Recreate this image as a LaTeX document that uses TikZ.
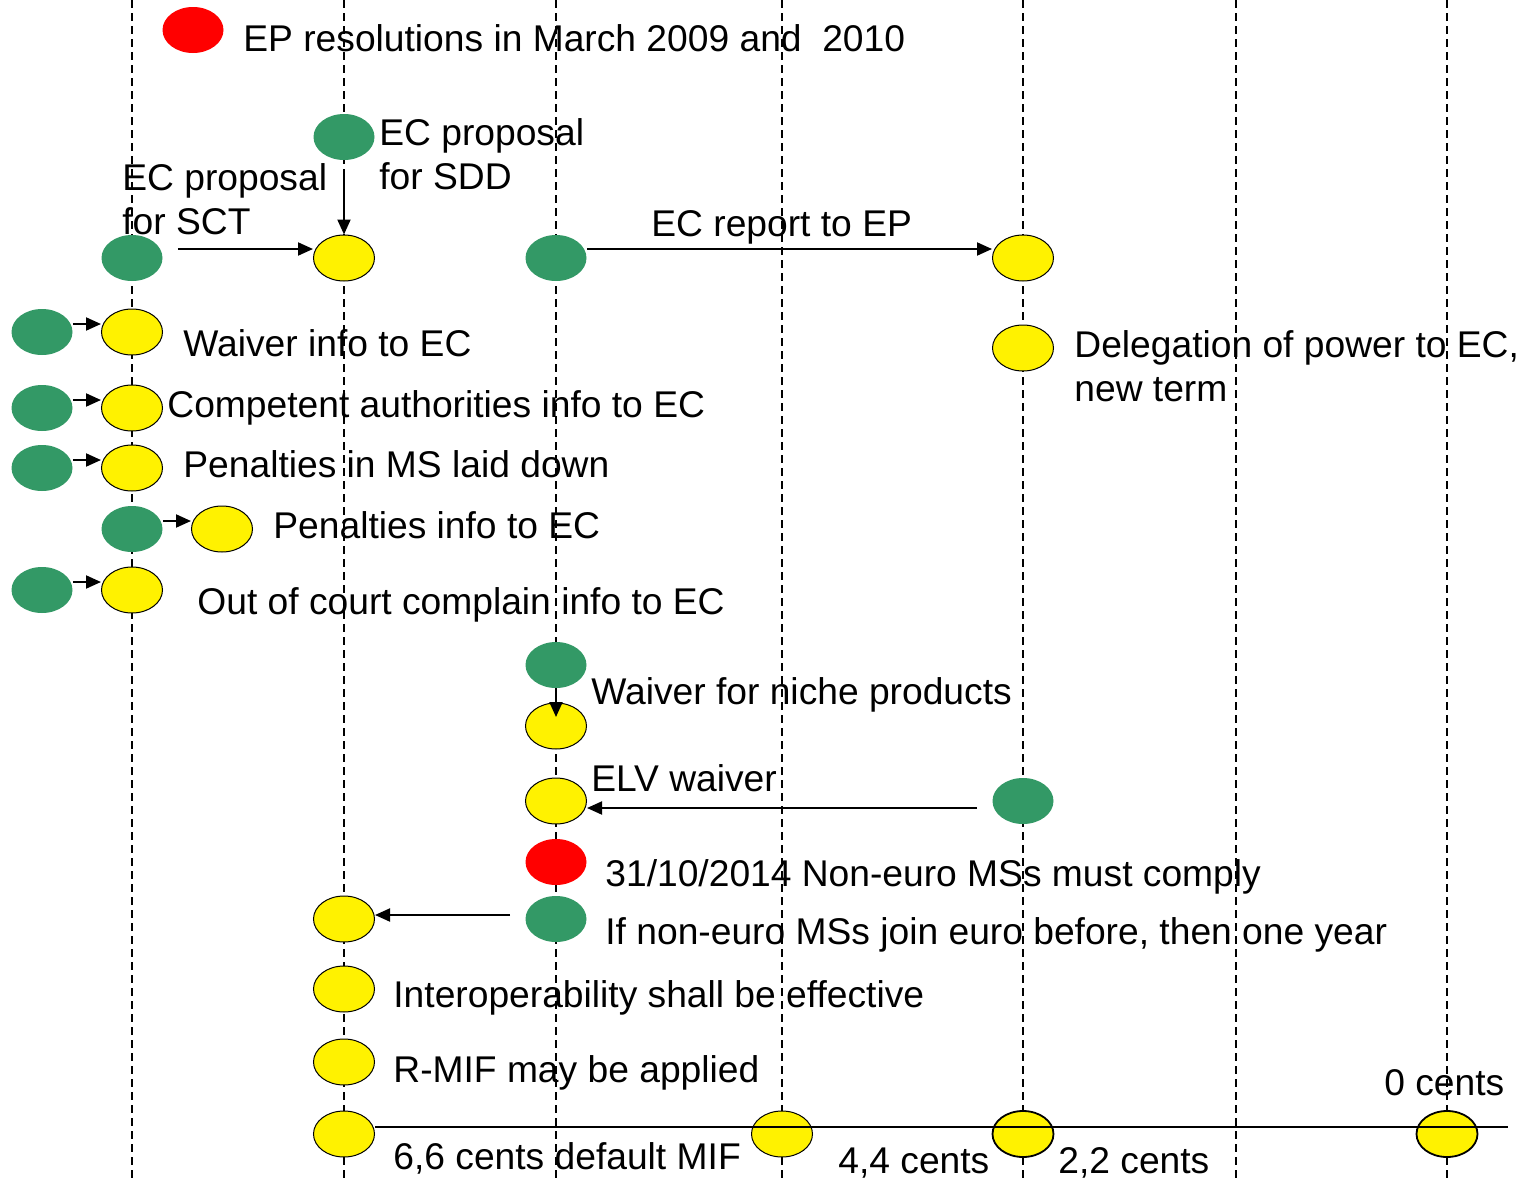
\documentclass[tikz,border=0pt]{standalone}
\usepackage{fontspec}
\setmainfont{Liberation Sans}
\usetikzlibrary{shapes.geometric,arrows.meta}
\definecolor{evgreen}{RGB}{51,153,102}
\tikzset{
  event/.style={
    ellipse,
    inner sep=0pt,
    minimum width=30.5pt,
    minimum height=23pt,
  },
  green event/.style={event, fill=evgreen},
  yellow event/.style={event, fill=yellow, draw=black, line width=0.5pt},
  red event/.style={event, fill=red},
  caption/.style={
    anchor=base west,
    inner sep=0pt,
    align=left,
    font=\fontsize{18.6}{22}\selectfont,
  },
  time line/.style={dash pattern=on 4pt off 2.5pt, line width=0.8pt},
  link/.style={-{Triangle[length=7.5pt,width=6.5pt]}, line width=1pt},
}

\begin{document}
\begin{tikzpicture}[x=0.5pt, y=-0.5pt]
        \useasboundingbox (0,0) rectangle (1528,1178);

        % time columns
        \foreach \col in {132,344,556,782,1023,1236,1447}
          \draw [time line] (\col,0) -- (\col,1178);

        % events
        \node [red event] (ep) at (193,30) {};
        \node [green event] (sddG) at (344,137) {};
        \node [green event] (sctG) at (132,258) {};
        \node [yellow event] (sddY) at (344,258) {};
        \node [green event] (repG) at (556,258) {};
        \node [yellow event] (repY) at (1023,258) {};
        \node [green event] (waiG) at (42,332) {};
        \node [yellow event] (waiY) at (132,332) {};
        \node [yellow event] (delY) at (1023,348) {};
        \node [green event] (comG) at (42,408) {};
        \node [yellow event] (comY) at (132,408) {};
        \node [green event] (penG) at (42,468) {};
        \node [yellow event] (penY) at (132,468) {};
        \node [green event] (pinG) at (132,529) {};
        \node [yellow event] (pinY) at (222,529) {};
        \node [green event] (outG) at (42,590) {};
        \node [yellow event] (outY) at (132,590) {};
        \node [green event] (nicG) at (556,665) {};
        \node [yellow event] (nicY) at (556,726) {};
        \node [yellow event] (elvY) at (556,801) {};
        \node [green event] (elvG) at (1023,801) {};
        \node [red event] (comply) at (556,862) {};
        \node [green event] (joinG) at (556,919) {};
        \node [yellow event] (joinY) at (344,919) {};
        \node [yellow event] (intY) at (344,989) {};
        \node [yellow event] (rmifY) at (344,1062) {};
        \node [yellow event] (mif66) at (344,1134) {};
        \node [yellow event] (mif44) at (782,1134) {};
        \node [yellow event, line width=0.9pt] (mif22) at (1023,1134) {};
        \node [yellow event, line width=0.9pt] (mif00) at (1447,1134) {};

        % connectors
        \draw [link, shorten <=6pt] (sddG.south) -- (sddY.north);
        \draw [link, shorten <=7.5pt] ([yshift=4.5pt]sctG.east) -- ([yshift=4.5pt]sddY.west);
        \draw [link] ([yshift=4.5pt]repG.east) -- ([yshift=4.5pt]repY.west);
        \draw [link] ([yshift=4pt]waiG.east) -- ([yshift=4pt]waiY.west);
        \draw [link] ([yshift=4pt]comG.east) -- ([yshift=4pt]comY.west);
        \draw [link] ([yshift=4pt]penG.east) -- ([yshift=4pt]penY.west);
        \draw [link] ([yshift=4pt]pinG.east) -- ([yshift=4pt]pinY.west);
        \draw [link] ([yshift=4pt]outG.east) -- ([yshift=4pt]outY.west);
        \draw [link, shorten >=4.5pt] (nicG.south) -- (nicY.center);
        \draw [link, shorten <=7.5pt] ([yshift=-3.5pt]elvG.west) -- ([yshift=-3.5pt]elvY.east);
        \draw [link, shorten <=7.5pt] ([yshift=2pt]joinG.west) -- ([yshift=2pt]joinY.east);
        \coordinate (mifEnd) at (1508,1127);
        \draw [line width=1pt] ([yshift=3.5pt]mif66.east) -- (mifEnd);

        % captions
        \node [caption] (epT) at (243,51) {EP resolutions in March 2009 and\ \ 2010};
        \node [caption] (sddT) at (379,189) {EC proposal\\for SDD};
        \node [caption] (sctT) at (122,234) {EC proposal\\for SCT};
        \node [caption] (repT) at (651,236) {EC report to EP};
        \node [caption] (waiT) at (183,356) {Waiver info to EC};
        \node [caption] (delT) at (1074,401) {Delegation of power to EC,\\new term};
        \node [caption] (comT) at (167,417) {Competent authorities info to EC};
        \node [caption] (penT) at (183,477) {Penalties in MS laid down};
        \node [caption] (pinT) at (273,538) {Penalties info to EC};
        \node [caption] (outT) at (197,614) {Out of court complain info to EC};
        \node [caption] (nicT) at (591,704) {Waiver for niche products};
        \node [caption] (elvT) at (591,791) {ELV waiver};
        \node [caption] (complyT) at (605,886) {31/10/2014 Non-euro MSs must comply};
        \node [caption] (joinT) at (605,944) {If non-euro MSs join euro before, then one year};
        \node [caption] (intT) at (393,1007) {Interoperability shall be effective};
        \node [caption] (rmifT) at (393,1082) {R-MIF may be applied};
        \node [caption] (mif66T) at (393,1169) {6,6 cents default MIF};
        \node [caption] (mif44T) at (838,1173) {4,4 cents};
        \node [caption] (mif22T) at (1058,1173) {2,2 cents};
        \node [caption] (mif00T) at (1384,1095) {0 cents};
\end{tikzpicture}
\end{document}
